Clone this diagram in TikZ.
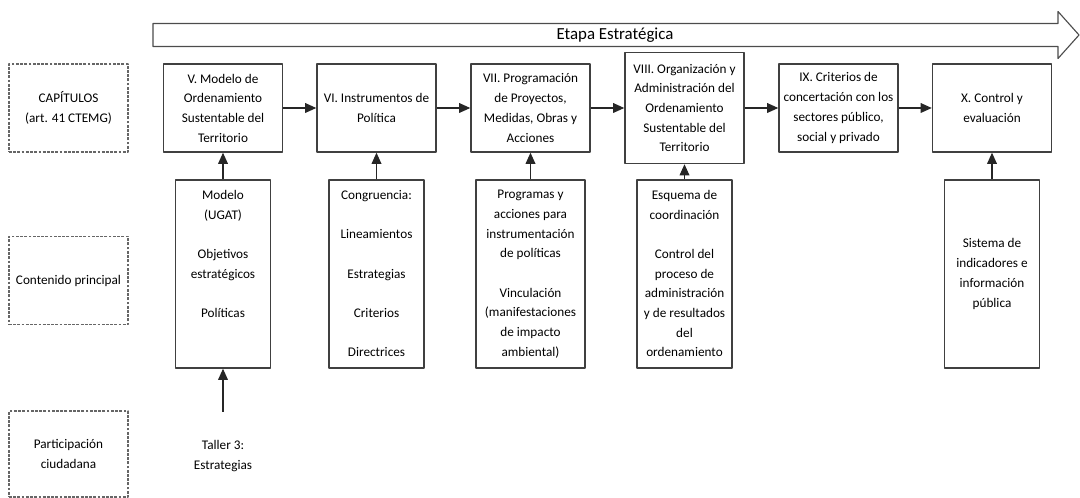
\documentclass[tikz,border=0pt]{standalone}
\usepackage{fontspec}
\setmainfont{Carlito}
\usetikzlibrary{arrows.meta}
\begin{document}
\begin{tikzpicture}[x=0.025cm, y=-0.025cm, >={Triangle[length=8pt,width=7pt]}, line join=round,
    font=\fontsize{9.4}{14}\selectfont,
    capbox/.style={draw=black!75, line width=1pt, minimum width=2.975cm, minimum height=2.2cm, align=center, inner sep=1pt},
    subbox/.style={draw=black!75, line width=1pt, minimum width=2.375cm, minimum height=4.7cm, align=center, inner sep=0pt},
    subtxt/.style={anchor=north, align=center, inner sep=0pt},
    rowbox/.style={draw=black!60, dash pattern=on 2pt off 1pt, line width=1pt, minimum width=2.975cm, minimum height=2.2cm, align=center},
    flecha/.style={->, line width=.8pt, black!85}]
    \useasboundingbox (0,0) rectangle (1080,498);
    % flecha de la etapa
    \draw[black!70, line width=.8pt] (153,23.5) -- (1058,23.5) -- (1058,11.5) -- (1079,35) -- (1058,58.5) -- (1058,46.5) -- (153,46.5) -- cycle;
    \node (etapa) at (615,35) {\fontsize{12}{14}\selectfont Etapa Estratégica};
    % columna izquierda
    \node[rowbox] (capitulos) at (68.5,108) {CAPÍTULOS\\(art. 41 CTEMG)};
    \node[rowbox] (contenido) at (68.5,280.5) {Contenido principal};
    \node[rowbox, minimum height=2.15cm] (participacion) at (68.5,454) {Participación\\ciudadana};
    % capitulos
    \node[capbox] (V) at (223,108) {V. Modelo de\\Ordenamiento\\Sustentable del\\Territorio};
    \node[capbox] (VI) at (376.5,108) {VI. Instrumentos de\\Política};
    \node[capbox] (VII) at (530.5,108) {VII. Programación\\de Proyectos,\\Medidas, Obras y\\Acciones};
    \node[capbox, minimum height=2.775cm] (VIII) at (684.5,108) {VIII. Organización y\\Administración del\\Ordenamiento\\Sustentable del\\Territorio};
    \node[capbox] (IX) at (838.5,108) {IX. Criterios de\\concertación con los\\sectores público,\\social y privado};
    \node[capbox] (X) at (992,108) {X. Control y\\evaluación};
    % contenido principal
    \node[subbox] (cV) at (223,274) {};
    \node[subtxt] (tV) at (223,190) {Modelo\\(UGAT)\\[14pt]Objetivos\\estratégicos\\[14pt]Políticas};
    \node[subbox] (cVI) at (376.5,274) {};
    \node[subtxt] (tVI) at (376.5,190) {Congruencia:\\[14pt]Lineamientos\\[14pt]Estrategias\\[14pt]Criterios\\[14pt]Directrices};
    \node[subbox, minimum width=2.725cm] (cVII) at (530.5,274) {};
    \node[subtxt] (tVII) at (530.5,190) {Programas y\\acciones para\\instrumentación\\de políticas\\[14pt]Vinculación\\(manifestaciones\\de impacto\\ambiental)};
    \node[subbox] (cVIII) at (684.5,274) {};
    \node[subtxt] (tVIII) at (684.5,190) {Esquema de\\coordinación\\[14pt]Control del\\proceso de\\administración\\y de resultados\\del\\ordenamiento};
    \node[subbox] (cX) at (992,274) {Sistema de\\indicadores e\\información\\pública};
    % participacion
    \node[align=center] (taller) at (223,456) {Taller 3:\\Estrategias};
    \coordinate (t3) at (223,412);
    % conectores
    \foreach \a/\b in {V/VI,VI/VII,VII/VIII,VIII/IX,IX/X}\draw[flecha] (\a) -- (\b);
    \foreach \s/\t in {cV/V,cVI/VI,cVII/VII,cVIII/VIII,cX/X}\draw[flecha] (\s) -- (\t);
    \draw[flecha] (t3) -- (cV);
\end{tikzpicture}
\end{document}
